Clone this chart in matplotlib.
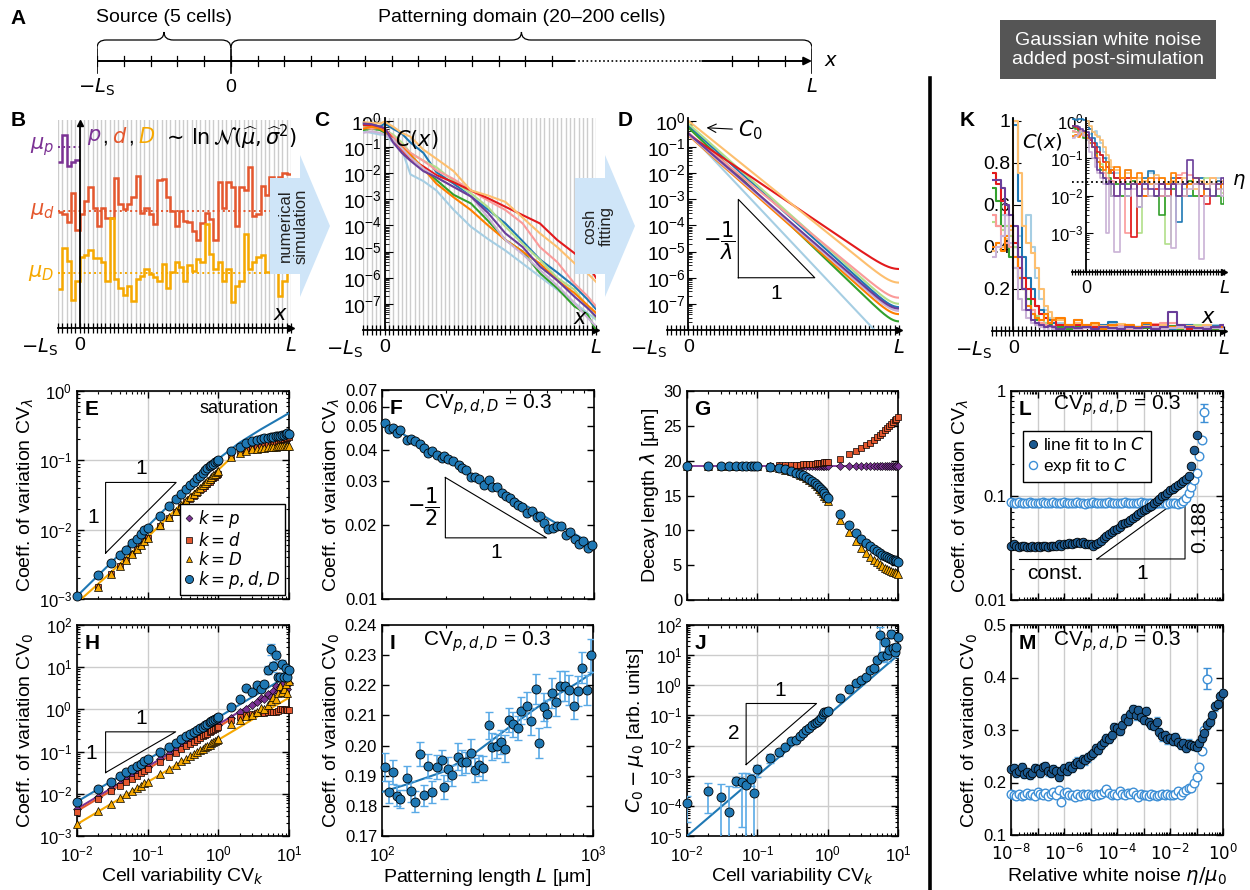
import numpy as np
import matplotlib
matplotlib.use("Agg")
import matplotlib.pyplot as plt
from matplotlib.lines import Line2D
from matplotlib.patches import Polygon, PathPatch, Rectangle
from matplotlib.path import Path
from matplotlib.ticker import FixedLocator, FixedFormatter, LogLocator, NullFormatter

plt.rcParams['font.family'] = ['Liberation Sans', 'DejaVu Sans']
plt.rcParams['mathtext.fontset'] = 'dejavusans'
plt.rcParams['font.size'] = 13
plt.rcParams['axes.linewidth'] = 1.2

nan = float('nan')

# ------------------------------------------------------------------ data
# Panel B : cell parameters (arbitrary units), cells -5 .. 48
B_p = [0.81, 0.94, 0.79, 0.81, 0.82]
B_d = [0.567, 0.555, 0.518, 0.660, 0.480, 0.555, 0.622, 0.688, 0.588, 0.497,
       0.588, 0.535, 0.535, 0.730, 0.605, 0.580, 0.605, 0.638, 0.742, 0.563,
       0.588, 0.555, 0.508, 0.722, 0.725, 0.638, 0.572, 0.497, 0.572, 0.522,
       0.517, 0.472, 0.430, 0.513, 0.563, 0.530, 0.430, 0.713, 0.588, 0.713,
       0.688, 0.497, 0.688, 0.672, 0.785, 0.547, 0.555, 0.692, 0.647, 0.738,
       0.638, 0.738, 0.755, 0.752]
B_D = [0.188, 0.388, 0.325, 0.138, 0.230, 0.347, 0.355, 0.380, 0.342, 0.342,
       0.322, 0.230, 0.538, 0.238, 0.197, 0.163, 0.205, 0.130, 0.238, 0.255,
       0.288, 0.263, 0.247, 0.230, 0.313, 0.197, 0.272, 0.322, 0.297, 0.230,
       0.305, 0.280, 0.338, 0.322, 0.508, 0.363, 0.288, 0.322, 0.230, 0.288,
       0.125, 0.205, 0.230, 0.458, 0.288, 0.322, 0.347, 0.355, 0.272, 0.272,
       0.313, 0.155, 0.230, 0.272]
B_mu_p, B_mu_d, B_mu_D = 0.885, 0.572, 0.268

# Panel C : simulated gradients (10 realisations)
C_x = [-5, -3, -1, 0, 2, 4, 6, 9, 12, 16, 20, 24, 28, 32, 36, 40, 44, 47, 49]
C_lblue = [0.4, 0.35, 0.3, 0.3, 0.15, 0.08, 9e-3, 5e-3, 2.2e-3, 4e-4, 9e-5, 3e-5, 1.1e-5, 3.5e-6, 1.1e-6, 3.5e-7, 1.1e-7, 4.5e-8, 2.5e-8]
C_blue = [0.7, 0.75, 0.6, 0.8, 0.5, 0.33, 0.15, 0.06, 0.011, 4e-3, 1.3e-3, 4e-4, 1.2e-4, 2.5e-5, 5e-6, 1.6e-6, 4.7e-7, 1.5e-7, 6.3e-8]
C_lgreen = [0.6, 0.55, 0.5, 0.45, 0.3, 0.15, 0.06, 0.03, 0.017, 5e-3, 1.7e-3, 5e-4, 9e-5, 2e-5, 4.8e-6, 1e-6, 3.5e-7, 8e-8, 2.8e-8]
C_green = [0.45, 0.5, 0.45, 0.35, 0.2, 0.12, 0.05, 0.015, 5.5e-3, 1.5e-3, 7e-4, 1.5e-4, 2.8e-5, 1e-5, 1.5e-6, 4e-7, 8e-8, 4e-8, 1e-8]
C_pink = [0.55, 0.5, 0.55, 0.5, 0.25, 0.12, 0.06, 0.03, 0.013, 6e-3, 2.2e-3, 9e-4, 3.9e-4, 1.2e-4, 1.5e-5, 4e-6, 6e-7, 2e-7, 8e-8]
C_red = [0.7, 0.65, 0.6, 0.5, 0.2, 0.08, 0.036, 0.018, 8.5e-3, 4.5e-3, 2.2e-3, 1.1e-3, 5.2e-4, 2.5e-4, 1.2e-4, 2.8e-5, 8.7e-6, 3.2e-6, 1e-6]
C_lorange = [0.9, 0.85, 0.8, 0.95, 0.6, 0.35, 0.25, 0.08, 0.036, 0.012, 2.2e-3, 1.4e-3, 8e-4, 2e-4, 5e-5, 1.5e-5, 3.6e-6, 1.5e-6, 7e-7]
C_orange = [0.5, 0.6, 0.5, 0.4, 0.2, 0.1, 0.05, 0.015, 4e-3, 1.2e-3, 3.9e-4, 1e-4, 2.8e-5, 1e-5, 3.5e-6, 8e-7, 2.6e-7, 9e-8, 4.5e-8]
C_lpurple = [0.35, 0.4, 0.35, 0.3, 0.2, 0.09, 0.04, 0.015, 7e-3, 3e-3, 1.3e-3, 2e-4, 2.8e-5, 8e-6, 2e-6, 5e-7, 1.1e-7, 3e-8, 1.4e-8]
C_purple = [0.8, 0.75, 0.6, 0.55, 0.15, 0.06, 0.03, 0.012, 7e-3, 3e-3, 1.3e-3, 3e-4, 5e-5, 1.5e-5, 2.7e-6, 8e-7, 1.9e-7, 7e-8, 3.3e-8]

# Panel D : cosh fit parameters (amplitude C0, decay length in cells)
D_C0 = [0.35, 0.65, 0.78, 0.55, 0.35, 0.30, 1.0, 0.28, 0.30, 0.33]
D_lam = [2.49, 2.94, 2.96, 2.76, 3.22, 3.91, 3.28, 2.98, 3.02, 3.04]
L_cells = 49

# Panel K : gradients with white noise
K_x = [-5, -4, -3, -2, -1, 0, 1, 2, 3, 4, 5, 6, 7, 8, 9, 10, 12, 14, 16, 18, 20, 22,
       24, 26, 28, 30, 32, 34, 36, 38, 40, 42, 44, 46, 48, 49]
K_lblue = [0.55, 0.50, 0.55, 0.50, 0.45, 0.40, 0.45, 0.50, 0.55, 0.40, 0.25, 0.15, 0.10, 0.06, 0.05, 0.04,
           0.03, 0.05, 0.02, 0.03, 0.015, 0.04, 0.02, 0.03, 0.01, 0.02, 0.03, 0.015, 0.025, 0.02, 0.03, 0.01, 0.02, 0.03, 0.015, 0.02]
K_blue = [1.10, 1.08, 1.12, 1.10, 1.06, 0.98, 0.62, 0.35, 0.25, 0.20, 0.12, 0.10, 0.08, 0.05, 0.04, 0.03,
          0.02, 0.01, 0.02, 0.005, 0.03, 0.045, 0.02, 0.01, 0.02, 0.03, 0.002, 0.02, 0.01, 0.02, 0.03, 0.01, 0.02, 0.025, 0.02, 0.03]
K_lgreen = [0.52, 0.50, 0.48, 0.50, 0.45, 0.40, 0.30, 0.20, 0.15, 0.10, 0.07, 0.05, 0.04, 0.03, 0.02, 0.02,
            0.01, 0.03, 0.02, 0.001, 0.02, 0.01, 0.03, 0.02, 0.0005, 0.02, 0.03, 0.01, 0.02, 0.01, 0.02, 0.03, 0.01, 0.02, 0.012, 0.02]
K_green = [0.68, 0.62, 0.50, 0.42, 0.35, 0.30, 0.25, 0.20, 0.15, 0.08, 0.05, 0.03, 0.02, 0.03, 0.01, 0.02,
           0.01, 0.02, 0.025, 0.01, 0.015, 0.02, 0.01, 0.003, 0.02, 0.015, 0.01, 0.02, 0.025, 0.01, 0.02, 0.015, 0.02, 0.01, 0.006, 0.015]
K_pink = [0.55, 0.50, 0.45, 0.42, 0.40, 0.35, 0.30, 0.20, 0.12, 0.10, 0.06, 0.04, 0.03, 0.02, 0.025, 0.01,
          0.02, 0.001, 0.03, 0.02, 0.015, 0.02, 0.03, 0.01, 0.02, 0.025, 0.035, 0.04, 0.036, 0.02, 0.01, 0.02, 0.03, 0.015, 0.02, 0.025]
K_red = [0.75, 0.70, 0.62, 0.55, 0.50, 0.42, 0.30, 0.25, 0.20, 0.15, 0.12, 0.08, 0.06, 0.04, 0.05, 0.03,
         0.02, 0.03, 0.0008, 0.02, 0.01, 0.02, 0.015, 0.02, 0.01, 0.02, 0.03, 0.01, 0.02, 0.02, 0.01, 0.006, 0.02, 0.015, 0.02, 0.01]
K_lorange = [0.38, 0.42, 0.40, 0.44, 0.48, 1.00, 0.75, 0.50, 0.42, 0.37, 0.30, 0.20, 0.12, 0.09, 0.06, 0.05,
             0.03, 0.04, 0.02, 0.03, 0.025, 0.02, 0.035, 0.03, 0.02, 0.025, 0.02, 0.03, 0.02, 0.015, 0.025, 0.02, 0.03, 0.02, 0.025, 0.03]
K_orange = [0.40, 0.42, 0.38, 0.45, 0.50, 0.35, 0.25, 0.20, 0.12, 0.08, 0.06, 0.05, 0.08, 0.04, 0.05, 0.06,
            0.03, 0.05, 0.03, 0.04, 0.01, 0.03, 0.02, 0.03, 0.02, 0.04, 0.02, 0.01, 0.02, 0.03, 0.02, 0.01, 0.02, 0.015, 0.02, 0.015]
K_lpurple = [0.35, 0.40, 0.45, 0.55, 0.42, 0.30, 0.15, 0.10, 0.06, 0.04, 0.03, 0.02, 0.001, 0.02, 0.01, 0.0003,
             0.02, 0.01, 0.015, 0.005, 0.02, 0.01, 0.02, 0.015, 0.01, 0.0004, 0.02, 0.01, 0.015, 0.02, 0.0002, 0.01, 0.02, 0.015, 0.01, 0.02]
K_purple = [0.72, 0.72, 0.68, 0.60, 0.55, 0.50, 0.35, 0.20, 0.10, 0.05, 0.04, 0.03, 0.02, 0.025, 0.02, 0.01,
            0.02, 0.015, 0.02, 0.01, 0.02, 0.015, 0.01, 0.02, 0.015, 0.02, 0.01, 0.02, 0.09, 0.03, 0.02, 0.015, 0.01, 0.02, 0.03, 0.02]
K_eta = 0.0235

# Panels E, G, H, J : sweep over cell variability
CV_k = [0.01, 0.02, 0.03, 0.04, 0.05, 0.06, 0.07, 0.08, 0.09, 0.1,
        0.15, 0.2, 0.25, 0.3, 0.35, 0.4, 0.45, 0.5, 0.55, 0.6, 0.65, 0.7, 0.75, 0.8, 0.85, 0.9, 0.95, 1.0,
        1.5, 2.0, 2.5, 3.0, 3.5, 4.0, 4.5, 5.0, 5.5, 6.0, 6.5, 7.0, 7.5, 8.0, 8.5, 9.0, 9.5, 10.0]

E_pdD = [1.1e-3, 2.2e-3, 3.3e-3, 4.3e-3, 5.1e-3, 6.5e-3, 7.3e-3, 8.6e-3, 1.0e-2, 1.07e-2,
         1.6e-2, 2.2e-2, 2.75e-2, 3.3e-2, 3.85e-2, 4.4e-2, 4.9e-2, 5.5e-2, 6.0e-2, 6.6e-2, 7.2e-2, 7.7e-2, 8.2e-2, 8.6e-2, 9.0e-2, 9.4e-2, 9.7e-2, 0.101,
         0.135, 0.158, 0.176, 0.188, 0.196, 0.203, 0.208, 0.213, 0.216, 0.22, 0.222, 0.226, 0.225, 0.232, 0.23, 0.24, 0.245, 0.242]
E_d = [nan, 1.5e-3, 2.3e-3, 3.0e-3, 3.7e-3, 4.5e-3, 5.2e-3, 6.0e-3, 6.8e-3, 7.5e-3,
       1.13e-2, 1.48e-2, 1.8e-2, 2.15e-2, 2.5e-2, 2.8e-2, 3.1e-2, 3.4e-2, 3.7e-2, 4.0e-2, 4.3e-2, 4.6e-2, 4.9e-2, 5.2e-2, 5.5e-2, 5.8e-2, 6.1e-2, 6.4e-2,
       0.11, 0.128, 0.14, 0.148, 0.155, 0.16, 0.165, 0.17, 0.175, 0.18, 0.185, 0.19, 0.195, 0.2, 0.204, 0.208, 0.213, 0.218]
E_D = [nan, 1.5e-3, 2.3e-3, 3.0e-3, 3.7e-3, 4.5e-3, 5.2e-3, 6.0e-3, 6.8e-3, 7.6e-3,
       1.15e-2, 1.5e-2, 1.85e-2, 2.25e-2, 2.6e-2, 2.95e-2, 3.3e-2, 3.65e-2, 4.0e-2, 4.35e-2, 4.7e-2, 5.05e-2, 5.4e-2, 5.75e-2, 6.1e-2, 6.4e-2, 6.8e-2, 7.1e-2,
       0.113, 0.128, 0.138, 0.144, 0.148, 0.151, 0.153, 0.155, 0.156, 0.157, 0.158, 0.159, 0.16, 0.16, 0.161, 0.161, 0.162, 0.162]
E_fit_pdD_x = [0.01, 0.03, 0.1, 0.3, 1.0, 2.0, 4.0, 10.0]
E_fit_pdD_y = [1.1e-3, 3.3e-3, 1.12e-2, 3.4e-2, 0.105, 0.18, 0.28, 0.48]
E_fit_D_x = [0.0115, 0.03, 0.1, 0.3, 1.0, 1.5]
E_fit_D_y = [1.0e-3, 2.4e-3, 7.8e-3, 2.35e-2, 7.3e-2, 0.108]

G_p = [19.3, 19.3, 19.3, 19.3, 19.3, 19.3, 19.3, 19.3, 19.3, 19.3,
       19.3, 19.3, 19.3, 19.3, 19.3, 19.3, 19.3, 19.3, 19.3, 19.3, 19.3, 19.3, 19.3, 19.3, 19.3, 19.3, 19.3, 19.3,
       19.3, 19.3, 19.3, 19.3, 19.3, 19.3, 19.3, 19.3, 19.3, 19.3, 19.3, 19.3, 19.3, 19.3, 19.3, 19.3, 19.3, 19.3]
G_d = [19.3, 19.3, 19.3, 19.3, 19.3, 19.3, 19.3, 19.3, 19.3, 19.3,
       19.3, 19.32, 19.35, 19.38, 19.4, 19.42, 19.45, 19.48, 19.5, 19.53, 19.56, 19.6, 19.63, 19.66, 19.7, 19.74, 19.78, 19.82,
       20.3, 20.9, 21.4, 21.8, 22.2, 22.6, 23.0, 23.4, 23.7, 24.0, 24.4, 24.7, 25.0, 25.3, 25.6, 25.8, 26.0, 26.2]
G_D = [19.3, 19.3, 19.3, 19.3, 19.3, 19.3, 19.3, 19.3, 19.3, 19.3,
       19.1, 18.9, 18.7, 18.5, 18.2, 18.0, 17.8, 17.5, 17.2, 16.9, 16.6, 16.3, 16.0, 15.7, 15.3, 15.0, 14.6, 14.2,
       11.5, 9.8, 8.4, 7.4, 6.7, 6.2, 5.8, 5.4, 5.1, 4.9, 4.65, 4.45, 4.3, 4.15, 4.05, 3.95, 3.85, 3.75]
G_pdD = [19.3, 19.3, 19.3, 19.3, 19.3, 19.3, 19.3, 19.3, 19.3, 19.3,
         19.1, 18.9, 18.8, 18.5, 18.3, 18.1, 17.9, 17.6, 17.4, 17.1, 16.8, 16.5, 16.2, 15.9, 15.6, 15.3, 14.9, 14.6,
         12.3, 10.7, 9.6, 8.8, 8.2, 7.7, 7.3, 7.0, 6.7, 6.5, 6.3, 6.15, 6.0, 5.9, 5.8, 5.7, 5.6, 5.5]
G_fit_p_x = [0.01, 10.0]
G_fit_p_y = [19.3, 19.3]

H_p = [4.3e-3, 8.6e-3, 1.3e-2, 1.7e-2, 2.15e-2, 2.6e-2, 3.0e-2, 3.45e-2, 3.9e-2, 4.3e-2,
       6.5e-2, 8.6e-2, 0.108, 0.13, 0.15, 0.172, 0.195, 0.215, 0.237, 0.26, 0.28, 0.3, 0.32, 0.345, 0.365, 0.39, 0.41, 0.43,
       0.62, 0.88, 1.0, 1.25, 1.5, 1.9, 1.8, 2.3, 2.0, 2.7, 3.5, 2.6, 3.4, 3.9, 2.5, 3.1, 3.0, 4.2]
H_d = [3.8e-3, 7.6e-3, 1.14e-2, 1.52e-2, 1.9e-2, 2.28e-2, 2.66e-2, 3.04e-2, 3.42e-2, 3.8e-2,
       5.7e-2, 7.6e-2, 9.5e-2, 0.114, 0.133, 0.152, 0.171, 0.19, 0.209, 0.228, 0.247, 0.266, 0.285, 0.304, 0.323, 0.342, 0.361, 0.38,
       0.55, 0.66, 0.72, 0.77, 0.8, 0.82, 0.84, 0.86, 0.87, 0.88, 0.88, 0.9, 1.02, 1.05, 0.98, 1.0, 0.96, 0.95]
H_D = [1.95e-3, 3.9e-3, 5.85e-3, 7.8e-3, 9.75e-3, 1.17e-2, 1.37e-2, 1.56e-2, 1.76e-2, 1.95e-2,
       2.9e-2, 3.9e-2, 4.9e-2, 5.85e-2, 6.8e-2, 7.8e-2, 8.8e-2, 9.75e-2, 0.107, 0.117, 0.127, 0.137, 0.146, 0.156, 0.166, 0.176, 0.185, 0.195,
       0.45, 0.55, 0.7, 0.72, 0.85, 1.1, 1.0, 1.3, 1.6, 2.0, 1.8, 2.5, 3.5, 2.6, 3.0, 4.0, 2.4, 4.6]
H_pdD = [6.4e-3, 1.32e-2, 1.95e-2, 2.6e-2, 3.25e-2, 3.9e-2, 4.55e-2, 5.2e-2, 5.85e-2, 6.5e-2,
         9.8e-2, 0.13, 0.163, 0.196, 0.228, 0.26, 0.293, 0.326, 0.36, 0.39, 0.42, 0.455, 0.49, 0.52, 0.555, 0.59, 0.62, 0.66,
         1.15, 1.75, 3.2, 2.6, 3.8, 3.1, 3.9, 8.8, 27.0, 10.5, 19.0, 6.0, 6.0, 12.0, 5.9, 9.5, 6.0, 8.7]
H_pdD_err = [0.0, 0.0, 0.0, 0.0, 0.0, 0.0, 0.0, 0.0, 0.0, 0.0,
             0.0, 0.0, 0.0, 0.0, 0.0, 0.0, 0.0, 0.0, 0.0, 0.0, 0.0, 0.0, 0.0, 0.0, 0.0, 0.0, 0.0, 0.0,
             0.1, 0.15, 0.4, 0.3, 0.5, 0.4, 0.6, 2.0, 8.0, 3.0, 5.0, 1.0, 1.0, 3.0, 1.0, 2.0, 1.0, 1.5]
H_fit_x = [0.01, 7.0]
H_fit_pdD_y = [6.5e-3, 4.55]
H_fit_p_y = [4.4e-3, 3.1]
H_fit_d_x = [0.01, 1.5]
H_fit_d_y = [3.9e-3, 0.58]
H_fit_D_x = [0.01, 10.0]
H_fit_D_y = [1.9e-3, 1.9]

J_val = [1.2e-4, 3.1e-4, 2.0e-4, 6.3e-5, 6.7e-4, 6.2e-4, 5.1e-4, 8.0e-4, 2.75e-4, 1.64e-3,
         3.9e-3, 5.9e-3, 8.9e-3, 1.4e-2, 1.58e-2, 2.1e-2, 2.7e-2, 3.2e-2, 3.9e-2, 4.8e-2, 5.4e-2, 6.1e-2, 6.9e-2, 8.3e-2, 0.113, 0.132, 0.127, 0.138,
         0.365, 0.74, 1.15, 1.48, 1.9, 3.2, 3.8, 6.9, 46.0, 9.5, 28.0, 10.0, 15.0, 52.0, 17.0, 13.0, 18.0, 40.0]
J_err = [0.9e-4, 2.5e-4, 3.5e-4, 4e-4, 2.5e-4, 6e-4, 7e-4, 3.5e-4, 6e-4, 7e-4,
         1.2e-3, 1.5e-3, 1e-3, 1.5e-3, 1e-3, 1.5e-3, 2e-3, 2e-3, 2e-3, 3e-3, 3e-3, 3e-3, 4e-3, 5e-3, 6e-3, 6e-3, 7e-3, 7e-3,
         0.03, 0.05, 0.08, 0.1, 0.15, 0.25, 0.3, 1.5, 40.0, 3.0, 8.0, 4.0, 6.0, 15.0, 5.0, 4.0, 6.0, 10.0]
J_fit_x = [0.01, 10.0]
J_fit_y = [1e-5, 10.0]

# Panels F, I : sweep over patterning length (um)
L_um = [103, 107.5, 112.7, 117.7, 122, 131, 136.6, 142.7, 150.6, 157.3,
        165.5, 172.2, 181.3, 192, 197, 205.8, 215.8, 230, 239.7, 250,
        263, 275, 288, 302, 320, 332, 349, 367, 384, 401,
        419, 439.5, 458, 484, 508, 536, 556, 583, 606, 638,
        668, 701, 735, 773, 811, 847, 891, 937, 975]
F_val = [0.0514, 0.0488, 0.0493, 0.0469, 0.0481, 0.0441, 0.0445, 0.0434, 0.0422, 0.0409,
         0.0391, 0.0397, 0.0383, 0.0373, 0.0378, 0.0369, 0.0362, 0.0347, 0.0340, 0.0332,
         0.0310, 0.0310, 0.0305, 0.0289, 0.0303, 0.0285, 0.0283, 0.0269, 0.0260, 0.0255,
         0.0247, 0.0241, 0.0235, 0.0223, 0.0227, 0.0215, 0.0216, 0.0202, 0.0191, 0.0193,
         0.0197, 0.0198, 0.0182, 0.0186, 0.0175, 0.0167, 0.0171, 0.0161, 0.0166]
F_fit_x = [100, 1000]
F_fit_y = [0.052, 0.0165]
I_val = [0.1929, 0.1846, 0.1913, 0.1833, 0.1824, 0.1891, 0.1849, 0.1813, 0.1971, 0.1835,
         0.1933, 0.1846, 0.1929, 0.1951, 0.1863, 0.1922, 0.1902, 0.1963, 0.1944, 0.1944,
         0.1976, 0.1920, 0.1935, 0.1926, 0.2068, 0.1996, 0.1999, 0.2012, 0.1990, 0.2084,
         0.2070, 0.2057, 0.2115, 0.2132, 0.2081, 0.2187, 0.2009, 0.2128, 0.2105, 0.2175,
         0.2143, 0.2197, 0.2197, 0.2185, 0.2132, 0.2181, 0.2259, 0.2184, 0.2300]
I_err = [0.0045, 0.0035, 0.004, 0.0035, 0.003, 0.004, 0.0035, 0.0035, 0.004, 0.0035,
         0.004, 0.0035, 0.004, 0.0035, 0.004, 0.004, 0.0035, 0.0045, 0.004, 0.0035,
         0.0045, 0.004, 0.0035, 0.004, 0.0045, 0.0045, 0.004, 0.004, 0.0045, 0.004,
         0.004, 0.004, 0.0045, 0.0045, 0.0045, 0.005, 0.005, 0.0045, 0.0045, 0.005,
         0.0045, 0.005, 0.005, 0.005, 0.0045, 0.005, 0.005, 0.005, 0.0055]
I_fit_x = [100, 135, 195, 280, 403, 579, 834, 1000]
I_fit_y = [0.1846, 0.1874, 0.1913, 0.1979, 0.2062, 0.2140, 0.2206, 0.2243]

# Panels L, M : sweep over relative white-noise amplitude (10 per decade)
eta = np.logspace(-8, 0, 81)
L_line = [0.033, 0.034, 0.033, 0.032, 0.033, 0.033, 0.032, 0.032, 0.033, 0.032,
          0.033, 0.032, 0.033, 0.033, 0.032, 0.033, 0.033, 0.033, 0.034, 0.033,
          0.034, 0.034, 0.035, 0.034, 0.035, 0.036, 0.035, 0.036, 0.034, 0.034,
          0.034, 0.033, 0.034, 0.035, 0.037, 0.039, 0.041, 0.043, 0.045, 0.047,
          0.048, 0.050, 0.053, 0.055, 0.056, 0.058, 0.061, 0.063, 0.066, 0.069,
          0.072, 0.074, 0.077, 0.080, 0.084, 0.089, 0.093, 0.098, 0.101, 0.106,
          0.112, 0.116, 0.120, 0.125, 0.131, 0.138, 0.145, 0.152, 0.190, 0.270, 0.380]
L_exp = [0.087, 0.085, 0.084, 0.086, 0.085, 0.084, 0.085, 0.086, 0.084, 0.085,
         0.085, 0.084, 0.086, 0.085, 0.084, 0.085, 0.086, 0.085, 0.084, 0.085,
         0.086, 0.085, 0.085, 0.084, 0.085, 0.086, 0.085, 0.084, 0.083, 0.084,
         0.085, 0.086, 0.085, 0.084, 0.085, 0.084, 0.085, 0.086, 0.085, 0.084,
         0.085, 0.084, 0.085, 0.086, 0.085, 0.084, 0.085, 0.084, 0.085, 0.086,
         0.085, 0.084, 0.085, 0.084, 0.083, 0.085, 0.084, 0.085, 0.084, 0.083,
         0.084, 0.085, 0.084, 0.083, 0.085, 0.088, 0.095, 0.105, 0.120, 0.140,
         0.165, 0.240, 0.340, 0.630]
L_exp_last_err = 0.12
M_line = [0.226, 0.227, 0.218, 0.221, 0.229, 0.216, 0.220, 0.214, 0.218, 0.228,
          0.226, 0.218, 0.229, 0.232, 0.221, 0.218, 0.225, 0.222, 0.210, 0.221,
          0.227, 0.222, 0.232, 0.228, 0.236, 0.240, 0.235, 0.244, 0.242, 0.248,
          0.252, 0.256, 0.265, 0.262, 0.272, 0.278, 0.284, 0.283, 0.290, 0.306,
          0.303, 0.298, 0.310, 0.322, 0.318, 0.330, 0.340, 0.328, 0.338, 0.325,
          0.320, 0.336, 0.315, 0.310, 0.308, 0.316, 0.296, 0.288, 0.290, 0.282,
          0.284, 0.280, 0.286, 0.278, 0.272, 0.275, 0.266, 0.274, 0.272, 0.270,
          0.268, 0.275, 0.285, 0.295, 0.310, 0.315, 0.328, 0.345, 0.350, 0.365, 0.370]
M_line_err = 0.008
M_exp = [0.178, 0.176, 0.174, 0.179, 0.175, 0.177, 0.180, 0.176, 0.178, 0.175,
         0.182, 0.179, 0.176, 0.180, 0.174, 0.178, 0.181, 0.177, 0.185, 0.162,
         0.180, 0.182, 0.177, 0.176, 0.172, 0.178, 0.175, 0.179, 0.176, 0.178,
         0.177, 0.175, 0.179, 0.176, 0.178, 0.182, 0.188, 0.180, 0.176, 0.178,
         0.177, 0.183, 0.179, 0.176, 0.180, 0.178, 0.182, 0.176, 0.172, 0.178,
         0.176, 0.177, 0.175, 0.179, 0.176, 0.174, 0.177, 0.178, 0.176, 0.179,
         0.176, 0.177, 0.178, 0.183, 0.176, 0.182, 0.186, 0.190, 0.190, 0.200,
         0.210, 0.230, 0.260, 0.300, 0.398]
M_exp_last_err = 0.02

# ------------------------------------------------------------------ style
PAIRED = ['#a6cee3', '#1f78b4', '#b2df8a', '#33a02c', '#fb9a99',
          '#e31a1c', '#fdbf6f', '#ff7f00', '#cab2d6', '#6a3d9a']
PUR = '#7b3294'
RED = '#e4572e'
ORA = '#f6a800'
BLU = '#1f78b4'
DBLU = '#1c5a91'
LBLU = '#3d8fd6'
EBAR = '#5aaae6'
ARROW = '#cfe5f8'

W, H = 1250, 890
fig = plt.figure(figsize=(W / 100, H / 100), dpi=100)


def px_axes(x0, y0, x1, y1, **kw):
    return fig.add_axes([x0 / W, 1 - y1 / H, (x1 - x0) / W, (y1 - y0) / H], **kw)


cell_edges = np.arange(-5, L_cells + 1)


def schem(ax, grid=False, fs=14, show_ls=True):
    ax.set_xlim(-5, L_cells)
    for s in ('top', 'right'):
        ax.spines[s].set_visible(False)
    ax.spines['left'].set_position(('data', 0))
    ax.spines['left'].set_linewidth(1.3)
    ax.spines['bottom'].set_linewidth(1.3)
    ax.set_xticks(cell_edges)
    labs = ['' for _ in cell_edges]
    if show_ls:
        labs[0] = '$-L_\\mathrm{S}$'
    labs[5] = '0'
    labs[-1] = '$L$'
    tl = ax.set_xticklabels(labs, fontsize=fs)
    tl[0].set_ha('right')
    ax.tick_params(axis='x', direction='inout', length=7, width=0.9, pad=3)
    ax.plot(1, 0, '>k', ms=5, transform=ax.transAxes, clip_on=False)
    if grid:
        ax.grid(axis='x', color='#cdcdcd', lw=1.0)
        ax.set_axisbelow(True)
    ax.patch.set_alpha(0)


def log_schem_y(ax, fs=14):
    ax.set_yscale('log')
    ax.yaxis.set_major_locator(FixedLocator([1e-7, 1e-6, 1e-5, 1e-4, 1e-3, 1e-2, 1e-1, 1]))
    ax.yaxis.set_minor_locator(LogLocator(base=10, subs=np.arange(2, 10), numticks=30))
    ax.yaxis.set_minor_formatter(NullFormatter())
    ax.tick_params(axis='y', which='major', direction='in', length=6, labelsize=fs, pad=2)
    ax.tick_params(axis='y', which='minor', direction='in', length=3)


def box_style(ax, xgrid=False, ygrid=False):
    ax.tick_params(which='both', direction='in', top=True, right=True, labelsize=12)
    ax.tick_params(which='major', length=5, width=1)
    ax.tick_params(which='minor', length=2.5, width=0.8)
    ax.tick_params(axis='x', which='major', pad=6)
    if xgrid:
        ax.grid(axis='x', which='major', color='#cccccc', lw=1)
    if ygrid:
        ax.grid(axis='y', which='major', color='#cccccc', lw=1)
    ax.set_axisbelow(True)


def log_dec(axis, lo, hi):
    axis.set_major_locator(FixedLocator([10.0 ** e for e in range(lo, hi + 1)]))
    axis.set_minor_locator(LogLocator(base=10, subs=np.arange(2, 10), numticks=50))
    axis.set_minor_formatter(NullFormatter())


def letter(ax, s):
    ax.text(0.035, 0.955, s, transform=ax.transAxes, fontweight='bold', fontsize=15,
            ha='left', va='top', zorder=20)


mk_c = dict(marker='o', ms=6.5, mfc=BLU, mec='k', mew=0.6, ls='none', clip_on=False, zorder=6)
mk_s = dict(marker='s', ms=4.8, mfc=RED, mec='k', mew=0.5, ls='none', clip_on=False, zorder=5)
mk_t = dict(marker='^', ms=5.5, mfc=ORA, mec='k', mew=0.5, ls='none', clip_on=False, zorder=5)
mk_d = dict(marker='D', ms=4.0, mfc=PUR, mec='k', mew=0.4, ls='none', clip_on=False, zorder=5)

# ------------------------------------------------------------------ panel A
axA = px_axes(97, 10, 812, 100)
axA.set_xlim(-5, 21.7)
axA.set_ylim(100, 10)
axA.axis('off')
LA = 21.7
axA.plot([-5, 12.8], [61, 61], color='k', lw=1.4)
axA.plot([12.8, 17.6], [61, 61], color='k', lw=1.2, ls=(0, (1, 1.5)))
axA.annotate('', xy=(LA, 61), xytext=(17.6, 61),
             arrowprops=dict(arrowstyle='-|>', color='k', lw=1.4, mutation_scale=12, shrinkA=0, shrinkB=0))
for t in list(range(-5, 13)) + [LA - 3, LA - 2, LA - 1]:
    axA.plot([t, t], [56, 66], color='k', lw=0.9)
for t in (-5, 0, LA):
    axA.plot([t, t], [49, 73], color='k', lw=1.2)


def brace(ax, x0, x1, yb, h, r):
    xm = 0.5 * (x0 + x1)
    ym = yb - h / 2
    verts = [(x0, yb), (x0, ym), (x0 + r, ym), (xm - r, ym), (xm, ym), (xm, yb - h),
             (xm, ym), (xm + r, ym), (x1 - r, ym), (x1, ym), (x1, yb)]
    codes = [Path.MOVETO, Path.CURVE3, Path.CURVE3, Path.LINETO, Path.CURVE3, Path.CURVE3,
             Path.CURVE3, Path.CURVE3, Path.LINETO, Path.CURVE3, Path.CURVE3]
    ax.add_patch(PathPatch(Path(verts, codes), fc='none', ec='k', lw=0.9))


brace(axA, -5, 0, 48, 16, 0.35)
brace(axA, 0, LA, 48, 16, 0.35)
axA.text(-2.5, 18, 'Source (5 cells)', ha='center', va='center', fontsize=14)
axA.text(LA / 2, 18, 'Patterning domain (20–200 cells)', ha='center', va='center', fontsize=14)
axA.text(-5, 87, '$-L_\\mathrm{S}$', ha='center', va='center', fontsize=14)
axA.text(0, 87, '0', ha='center', va='center', fontsize=14)
axA.text(LA, 87, '$L$', ha='center', va='center', fontsize=14)
axA.text(LA + 0.45, 61, '$x$', ha='left', va='center', fontsize=14)

# ------------------------------------------------------------------ panel B
axB = px_axes(58, 120, 291, 328)
schem(axB, grid=True)
axB.set_ylim(0, 1.015)
axB.set_yticks([])
axB.spines['left'].set_bounds(0, 1.0)
axB.plot(0, 1.0, '^k', ms=5, clip_on=False)
axB.stairs(B_d, cell_edges, baseline=None, color=RED, lw=1.8)
axB.stairs(B_D, cell_edges, baseline=None, color=ORA, lw=1.8)
axB.stairs(B_p, cell_edges[:6], baseline=None, color=PUR, lw=1.8)
axB.hlines(B_mu_p, -5, 0, colors=PUR, linestyles=':', lw=1.4)
axB.hlines(B_mu_d, -5, L_cells, colors=RED, linestyles=':', lw=1.4)
axB.hlines(B_mu_D, -5, L_cells, colors=ORA, linestyles=':', lw=1.4)
axB.text(-5.8, B_mu_p, '$\\mu_p$', color=PUR, ha='right', va='center', fontsize=15)
axB.text(-5.8, B_mu_d, '$\\mu_d$', color=RED, ha='right', va='center', fontsize=15)
axB.text(-5.8, B_mu_D, '$\\mu_D$', color=ORA, ha='right', va='center', fontsize=15)
axB.text(46.5, 0.065, '$x$', fontsize=15, ha='center', va='center')

# ------------------------------------------------------------------ panel C
axC = px_axes(363, 118, 596, 330)
schem(axC, grid=True)
log_schem_y(axC)
axC.set_ylim(1e-8, 1.3)
for col, ys in zip(PAIRED, [C_lblue, C_blue, C_lgreen, C_green, C_pink, C_red,
                            C_lorange, C_orange, C_lpurple, C_purple]):
    axC.plot(C_x, ys, color=col, lw=1.5)
axC.text(2.5, 0.2, '$C(x)$', fontsize=15, ha='left', va='center')
axC.text(45.5, 2.8e-8, '$x$', fontsize=15, ha='center', va='center')

# ------------------------------------------------------------------ panel D
axD = px_axes(667, 118, 899, 330)
schem(axD, grid=False)
log_schem_y(axD)
axD.set_ylim(1e-8, 1.3)
xd = np.linspace(0, L_cells, 300)
for col, c0, lam in zip(PAIRED, D_C0, D_lam):
    axD.plot(xd, c0 * np.cosh((L_cells - xd) / lam) / np.cosh(L_cells / lam), color=col, lw=1.5)
axD.plot([11.6, 11.6, 29.4, 11.6], [1e-6, 1e-3, 1e-6, 1e-6], color='k', lw=0.8)
axD.text(7.3, 2.5e-5, '$-\\dfrac{1}{\\lambda}$', fontsize=15, ha='center', va='center')
axD.text(20.5, 2.5e-7, '1', fontsize=15, ha='center', va='center')
axD.annotate('$C_0$', xy=(4.2, 0.55), xytext=(11.5, 0.45), fontsize=15, va='center',
             arrowprops=dict(arrowstyle='->', lw=0.8, color='k', shrinkA=2, shrinkB=0))

# ------------------------------------------------------------------ panel K
axK = px_axes(992, 118, 1224, 331)
schem(axK, grid=False, fs=14)
axK.set_ylim(0, 1.014)
axK.set_yticks([0.2, 0.4, 0.6, 0.8, 1.0])
axK.set_yticklabels(['0.2', '0.4', '0.6', '0.8', '1'])
axK.tick_params(axis='y', direction='in', length=6, labelsize=14, pad=2)
K_curves = [K_lblue, K_blue, K_lgreen, K_green, K_pink, K_red, K_lorange, K_orange, K_lpurple, K_purple]
for col, ys in zip(PAIRED, K_curves):
    axK.plot(K_x, ys, color=col, lw=1.5, drawstyle='steps-post')
axK.text(2.0, 0.9, '$C(x)$', fontsize=14, ha='left', va='center')
axK.text(45.5, 0.065, '$x$', fontsize=15, ha='center', va='center')

axKi = px_axes(1072, 118, 1224, 272)
schem(axKi, grid=False, fs=13, show_ls=False)
axKi.set_yscale('log')
axKi.set_ylim(9e-5, 1.2)
axKi.yaxis.set_major_locator(FixedLocator([1e-3, 1e-2, 1e-1, 1]))
axKi.yaxis.set_minor_locator(LogLocator(base=10, subs=np.arange(2, 10), numticks=30))
axKi.yaxis.set_minor_formatter(NullFormatter())
axKi.tick_params(axis='y', which='major', direction='in', length=5, labelsize=12, pad=2)
axKi.tick_params(axis='y', which='minor', direction='in', length=2.5)
axKi.tick_params(axis='x', length=5)
for col, ys in zip(PAIRED, K_curves):
    axKi.plot(K_x, ys, color=col, lw=1.2, drawstyle='steps-post')
axKi.hlines(K_eta, -5, L_cells, colors='k', linestyles=':', lw=1.3, zorder=10)
axKi.text(L_cells + 3, K_eta, '$\\eta$', fontsize=14, ha='left', va='center')

# ------------------------------------------------------------------ panel E
axE = px_axes(77, 391, 289, 599)
axE.set_xscale('log'); axE.set_yscale('log')
axE.set_xlim(1e-2, 1e1); axE.set_ylim(1e-3, 1)
log_dec(axE.xaxis, -2, 1); log_dec(axE.yaxis, -3, 0)
box_style(axE, True, True)
axE.tick_params(labelbottom=False)
axE.plot(E_fit_pdD_x, E_fit_pdD_y, color=BLU, lw=1.5, zorder=3)
axE.plot(E_fit_D_x, E_fit_D_y, color=ORA, lw=1.5, zorder=3)
axE.plot(CV_k, E_d, **mk_s)
axE.plot(CV_k, E_D, **mk_t)
axE.plot(CV_k, E_pdD, **mk_c)
axE.plot([0.0254, 0.0254, 0.253, 0.0254], [4.6e-3, 0.048, 0.048, 4.6e-3], color='k', lw=0.8)
axE.text(0.08, 0.075, '1', fontsize=15, ha='center', va='center')
axE.text(0.017, 0.0149, '1', fontsize=15, ha='center', va='center')
axE.text(0.95, 0.915, 'saturation', transform=axE.transAxes, ha='right', va='center', fontsize=13)
letter(axE, 'E')
axE.set_ylabel('Coeff. of variation CV$_\\lambda$', fontsize=14, labelpad=2)


def handle(mk, ms=None):
    d = {k: v for k, v in mk.items() if k not in ('clip_on', 'zorder')}
    if ms is not None:
        d['ms'] = ms
    return Line2D([], [], **d)


hE = [handle(mk_d, 3.5), handle(mk_s, 4.3), handle(mk_t, 5.0), handle(mk_c, 5.8)]
legE = axE.legend(hE, ['$k = p$', '$k = d$', '$k = D$', '$k = p, d, D$'], loc='lower right',
                  fancybox=False, edgecolor='k', framealpha=1, fontsize=12, handlelength=0.6,
                  handletextpad=0.25, borderpad=0.25, labelspacing=0.05, borderaxespad=0.25)
legE.get_frame().set_linewidth(1.0)
legE.set_zorder(30)

# ------------------------------------------------------------------ panel F
axF = px_axes(382, 390, 594, 599)
axF.set_xscale('log'); axF.set_yscale('log')
axF.set_xlim(100, 1000); axF.set_ylim(0.01, 0.07)
log_dec(axF.xaxis, 2, 3)
axF.yaxis.set_major_locator(FixedLocator([0.01, 0.02, 0.03, 0.04, 0.05, 0.06, 0.07]))
axF.yaxis.set_major_formatter(FixedFormatter(['0.01', '0.02', '0.03', '0.04', '0.05', '0.06', '0.07']))
axF.yaxis.set_minor_locator(FixedLocator([]))
box_style(axF)
axF.tick_params(labelbottom=False)
axF.plot(F_fit_x, F_fit_y, color=BLU, lw=1.5, zorder=3)
axF.plot(L_um, F_val, **mk_c)
axF.plot([199, 199, 597, 199], [0.031, 0.01767, 0.01767, 0.031], color='k', lw=0.8)
axF.text(156, 0.0235, '$-\\dfrac{1}{2}$', fontsize=15, ha='center', va='center')
axF.text(347, 0.0154, '1', fontsize=15, ha='center', va='center')
axF.text(0.5, 0.93, 'CV$_{p,d,D}$ = 0.3', transform=axF.transAxes, ha='center', va='center', fontsize=15)
letter(axF, 'F')
axF.set_ylabel('Coeff. of variation CV$_\\lambda$', fontsize=14, labelpad=2)

# ------------------------------------------------------------------ panel G
axG = px_axes(687, 391, 898, 600)
axG.set_xscale('log')
axG.set_xlim(1e-2, 1e1); axG.set_ylim(0, 30)
log_dec(axG.xaxis, -2, 1)
axG.set_yticks([0, 5, 10, 15, 20, 25, 30])
box_style(axG, True, False)
axG.tick_params(labelbottom=False)
axG.plot(G_fit_p_x, G_fit_p_y, color=PUR, lw=1.3, zorder=3)
axG.plot(CV_k, G_p, **mk_d)
axG.plot(CV_k, G_d, **mk_s)
axG.plot(CV_k, G_D, **mk_t)
axG.plot(CV_k, G_pdD, **mk_c)
letter(axG, 'G')
axG.set_ylabel('Decay length $\\lambda$ [μm]', fontsize=14, labelpad=2)

# ------------------------------------------------------------------ panel H
axH = px_axes(77, 625, 289, 836)
axH.set_xscale('log'); axH.set_yscale('log')
axH.set_xlim(1e-2, 1e1); axH.set_ylim(1e-3, 1e2)
log_dec(axH.xaxis, -2, 1); log_dec(axH.yaxis, -3, 2)
box_style(axH, True, True)
axH.plot(H_fit_x, H_fit_pdD_y, color=BLU, lw=1.5, zorder=3)
axH.plot(H_fit_x, H_fit_p_y, color=PUR, lw=1.5, zorder=3)
axH.plot(H_fit_d_x, H_fit_d_y, color=RED, lw=1.5, zorder=3)
axH.plot(H_fit_D_x, H_fit_D_y, color=ORA, lw=1.5, zorder=3)
axH.plot(CV_k, H_p, **mk_d)
axH.plot(CV_k, H_d, **mk_s)
axH.plot(CV_k, H_D, **mk_t)
axH.errorbar(CV_k, H_pdD, yerr=H_pdD_err, fmt='none', ecolor=EBAR, elinewidth=1.2, capsize=3, zorder=4)
axH.plot(CV_k, H_pdD, **mk_c)
axH.plot([0.0254, 0.0254, 0.249, 0.0254], [0.0318, 0.294, 0.294, 0.0318], color='k', lw=0.8)
axH.text(0.08, 0.61, '1', fontsize=15, ha='center', va='center')
axH.text(0.016, 0.09, '1', fontsize=15, ha='center', va='center')
letter(axH, 'H')
axH.set_ylabel('Coeff. of variation CV$_0$', fontsize=14, labelpad=2)
axH.set_xlabel('Cell variability CV$_k$', fontsize=14, labelpad=1)

# ------------------------------------------------------------------ panel I
axI = px_axes(382, 625, 593, 836)
axI.set_xscale('log')
axI.set_xlim(100, 1000); axI.set_ylim(0.17, 0.24)
log_dec(axI.xaxis, 2, 3)
axI.set_yticks([0.17, 0.18, 0.19, 0.20, 0.21, 0.22, 0.23, 0.24])
axI.set_yticklabels(['0.17', '0.18', '0.19', '0.20', '0.21', '0.22', '0.23', '0.24'])
box_style(axI)
axI.plot(I_fit_x, I_fit_y, color=BLU, lw=1.5, zorder=3)
axI.errorbar(L_um, I_val, yerr=I_err, fmt='none', ecolor=EBAR, elinewidth=1.2, capsize=3, zorder=4)
axI.plot(L_um, I_val, **mk_c)
axI.text(0.5, 0.92, 'CV$_{p,d,D}$ = 0.3', transform=axI.transAxes, ha='center', va='center', fontsize=15)
letter(axI, 'I')
axI.set_ylabel('Coeff. of variation CV$_0$', fontsize=14, labelpad=2)
axI.set_xlabel('Patterning length $L$ [μm]', fontsize=14, labelpad=1)

# ------------------------------------------------------------------ panel J
axJ = px_axes(687, 625, 898, 836)
axJ.set_xscale('log'); axJ.set_yscale('log')
axJ.set_xlim(1e-2, 1e1); axJ.set_ylim(1e-5, 1e2)
log_dec(axJ.xaxis, -2, 1); log_dec(axJ.yaxis, -5, 2)
box_style(axJ, True, True)
axJ.plot(J_fit_x, J_fit_y, color=BLU, lw=1.5, zorder=3)
axJ.errorbar(CV_k, J_val, yerr=J_err, fmt='none', ecolor=EBAR, elinewidth=1.2, capsize=3, zorder=4)
axJ.plot(CV_k, J_val, **mk_c)
axJ.plot([0.0693, 0.0693, 0.695, 0.0693], [2.34e-3, 0.249, 0.249, 2.34e-3], color='k', lw=0.8)
axJ.text(0.21, 0.69, '1', fontsize=15, ha='center', va='center')
axJ.text(0.046, 0.025, '2', fontsize=15, ha='center', va='center')
letter(axJ, 'J')
axJ.set_ylabel('$C_0 - \\mu_0$ [arb. units]', fontsize=14, labelpad=2)
axJ.set_xlabel('Cell variability CV$_k$', fontsize=14, labelpad=1)

# ------------------------------------------------------------------ panel L
axL = px_axes(1011, 391, 1223, 600)
axL.set_xscale('log'); axL.set_yscale('log')
axL.set_xlim(1e-8, 1); axL.set_ylim(0.01, 1)
log_dec(axL.xaxis, -8, 0); log_dec(axL.yaxis, -2, 0)
axL.yaxis.set_major_formatter(FixedFormatter(['0.01', '0.1', '1']))
box_style(axL, True, True)
axL.tick_params(labelbottom=False)
mk_line = dict(marker='o', ms=6.2, mfc=DBLU, mec='k', mew=0.6, ls='none', clip_on=False, zorder=6)
mk_exp = dict(marker='o', ms=6.2, mfc='white', mec=LBLU, mew=1.0, ls='none', clip_on=False, zorder=5)
axL.plot(eta[:len(L_exp)], L_exp, **mk_exp)
axL.errorbar([eta[len(L_exp) - 1]], [L_exp[-1]], yerr=[L_exp_last_err], fmt='none', ecolor=LBLU,
             elinewidth=1.2, capsize=3, zorder=4)
axL.plot(eta[:len(L_line)], L_line, **mk_line)
axL.plot([2e-8, 1.05e-5], [0.0247, 0.0247], color='k', lw=0.8)
axL.plot([1.76e-5, 0.0369, 0.0369, 1.76e-5], [0.0247, 0.0247, 0.101, 0.0247], color='k', lw=0.8)
axL.text(4.6e-7, 0.0178, 'const.', fontsize=15, ha='center', va='center')
axL.text(8.7e-4, 0.0178, '1', fontsize=15, ha='center', va='center')
axL.text(0.135, 0.05, '0.188', fontsize=15, ha='center', va='center', rotation=90)
axL.text(0.5, 0.93, 'CV$_{p,d,D}$ = 0.3', transform=axL.transAxes, ha='center', va='center', fontsize=15)
letter(axL, 'L')
legL = axL.legend([Line2D([], [], marker='o', ms=5.8, mfc=DBLU, mec='k', mew=0.6, ls='none'),
                   Line2D([], [], marker='o', ms=5.8, mfc='white', mec=LBLU, mew=1.0, ls='none')],
                  ['line fit to ln $C$', 'exp fit to $C$'], loc='upper left', bbox_to_anchor=(0.055, 0.81),
                  fancybox=False, edgecolor='k', framealpha=1, fontsize=12.5, handlelength=0.6,
                  handletextpad=0.3, borderpad=0.3, labelspacing=0.2, borderaxespad=0.0)
legL.get_frame().set_linewidth(1.0)
legL.set_zorder(30)
axL.set_ylabel('Coeff. of variation CV$_\\lambda$', fontsize=14, labelpad=2)

# ------------------------------------------------------------------ panel M
axM = px_axes(1011, 625, 1223, 835)
axM.set_xscale('log')
axM.set_xlim(1e-8, 1); axM.set_ylim(0.1, 0.5)
log_dec(axM.xaxis, -8, 0)
axM.xaxis.set_major_formatter(FixedFormatter(['$10^{-8}$', '', '$10^{-6}$', '', '$10^{-4}$', '',
                                              '$10^{-2}$', '', '$10^{0}$']))
axM.set_yticks([0.1, 0.2, 0.3, 0.4, 0.5])
axM.set_yticklabels(['0.1', '0.2', '0.3', '0.4', '0.5'])
box_style(axM, True, False)
axM.plot(eta[:len(M_exp)], M_exp, **mk_exp)
axM.errorbar([eta[len(M_exp) - 1]], [M_exp[-1]], yerr=[M_exp_last_err], fmt='none', ecolor=LBLU,
             elinewidth=1.2, capsize=3, zorder=4)
axM.errorbar(eta[:len(M_line)], M_line, yerr=M_line_err, fmt='none', ecolor=EBAR, elinewidth=1.0,
             capsize=2, zorder=4)
axM.plot(eta[:len(M_line)], M_line, **mk_line)
axM.text(0.5, 0.92, 'CV$_{p,d,D}$ = 0.3', transform=axM.transAxes, ha='center', va='center', fontsize=15)
letter(axM, 'M')
axM.set_ylabel('Coeff. of variation CV$_0$', fontsize=14, labelpad=2)
axM.set_xlabel('Relative white noise $\\eta/\\mu_0$', fontsize=14, labelpad=1)

# ------------------------------------------------------------------ overlay
ax0 = fig.add_axes([0, 0, 1, 1], zorder=50)
ax0.set_xlim(0, W); ax0.set_ylim(H, 0)
ax0.axis('off')
ax0.patch.set_alpha(0)
for xs in ((270, 300, 330), (575, 605, 635)):
    a, b, c = xs
    ax0.add_patch(Polygon([(a, 178), (b, 178), (b, 155), (c, 226), (b, 297), (b, 274), (a, 274)],
                          closed=True, fc=ARROW, ec='none'))
ax0.text(293, 226, 'numerical\nsimulation', rotation=90, ha='center', va='center', fontsize=12,
         linespacing=1.05, color='#222222')
ax0.text(598, 226, 'cosh\nfitting', rotation=90, ha='center', va='center', fontsize=12,
         linespacing=1.05, color='#222222')
ax0.plot([930, 930], [78, 890], color='k', lw=2.6)
ax0.add_patch(Rectangle((1000, 20), 216, 59, fc='#555555', ec='none'))
ax0.text(1108, 50, 'Gaussian white noise\nadded post-simulation', color='white', ha='center',
         va='center', fontsize=14, linespacing=1.1)
for s, x, y in (('A', 18, 18), ('B', 18, 120), ('C', 322, 120), ('D', 625, 120), ('K', 967, 120)):
    ax0.text(x, y, s, fontweight='bold', fontsize=15, ha='center', va='center')
# B title with coloured parameter symbols, chained so pieces never overlap
pieces = (('$p$', PUR), (',', 'k'), ('$d$', RED), (',', 'k'), ('$D$', ORA),
          ('$\\sim\\,\\ln\\mathcal{N}(\\widehat{\\mu},\\widehat{\\sigma}^2)$', 'k'))
prev = ax0.text(87, 137, pieces[0][0], color=pieces[0][1], fontsize=15, ha='left', va='center')
for s, col in pieces[1:]:
    gap = 5 if s.startswith('$\\sim') else (3 if s != ',' else 0.5)
    prev = ax0.annotate(s, xy=(1, 0.5), xycoords=prev, xytext=(gap, 0), textcoords='offset points',
                        color=col, fontsize=15, ha='left', va='center')

fig.savefig('out.png', dpi=100)
